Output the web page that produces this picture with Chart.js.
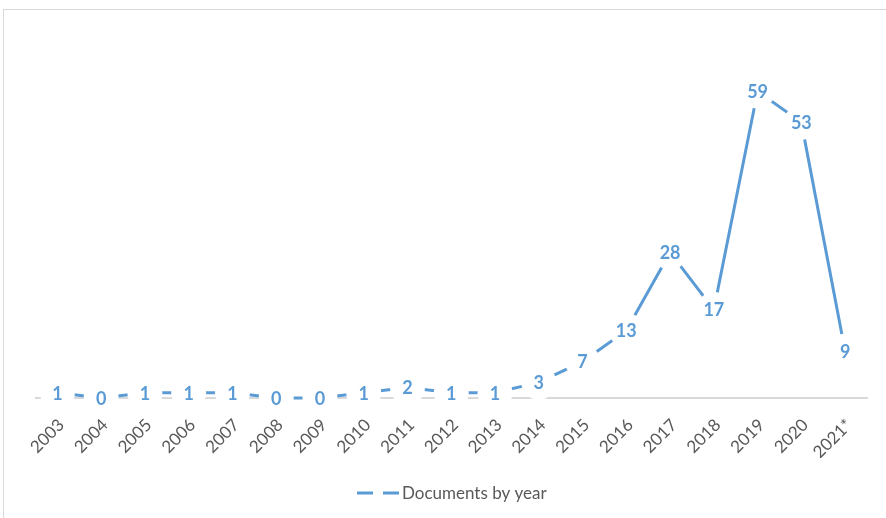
<!DOCTYPE html>
<html>
<head>
<meta charset="utf-8">
<script src="https://cdn.jsdelivr.net/npm/chart.js@4.4.1/dist/chart.umd.min.js"></script>
<style>
  html, body { margin: 0; padding: 0; background: #ffffff; overflow: hidden; }
  #frame { position: absolute; left: 3px; top: 9px; width: 1000px; height: 700px; border: 1px solid #D9D9D9; }
  #wrap { position: absolute; left: 0; top: 0; width: 886px; height: 518px; }
</style>
</head>
<body>
<div id="frame"></div>
<div id="wrap"><canvas id="c" width="886" height="518"></canvas></div>
<script>
const years = ["2003","2004","2005","2006","2007","2008","2009","2010","2011","2012","2013","2014","2015","2016","2017","2018","2019","2020","2021*"];
const documents = [1,0,1,1,1,0,0,1,2,1,1,3,7,13,28,17,59,53,9];
const seriesLabel = "Documents by year";

const BLUE = "#5B9BD5";
const GREY_TEXT = "#595959";
const FONT = "Lato, 'Open Sans', sans-serif";

const labelPlugin = {
  id: "pointLabels",
  afterDatasetsDraw(chart) {
    const ctx = chart.ctx;
    const meta = chart.getDatasetMeta(0);
    const data = chart.data.datasets[0].data;
    ctx.save();
    ctx.font = "bold 18px " + FONT;
    ctx.textAlign = "center";
    ctx.textBaseline = "middle";
    meta.data.forEach((pt, i) => {
      const txt = String(data[i]);
      ctx.fillStyle = "#ffffff";
      ctx.beginPath();
      ctx.arc(pt.x, pt.y, 17.5, 0, Math.PI * 2);
      ctx.fill();
      ctx.fillStyle = BLUE;
      ctx.fillText(txt, pt.x, pt.y + 1);
    });
    ctx.restore();
  },
  afterDraw(chart) {
    // legend
    const ctx = chart.ctx;
    ctx.save();
    const y = 493;
    ctx.strokeStyle = BLUE;
    ctx.lineWidth = 3;
    ctx.setLineDash([16, 10]);
    ctx.beginPath();
    ctx.moveTo(357, y);
    ctx.lineTo(399, y);
    ctx.stroke();
    ctx.setLineDash([]);
    ctx.fillStyle = GREY_TEXT;
    ctx.font = "17px " + FONT;
    ctx.textAlign = "left";
    ctx.textBaseline = "middle";
    ctx.fillText(chart.data.datasets[0].label, 402, y + 1);
    ctx.restore();
  }
};

new Chart(document.getElementById("c"), {
  type: "line",
  data: {
    labels: years,
    datasets: [{
      label: seriesLabel,
      data: documents,
      borderColor: BLUE,
      backgroundColor: BLUE,
      borderWidth: 3,
      pointRadius: 0,
      tension: 0,
      fill: false,
      clip: false
    }]
  },
  options: {
    responsive: false,
    animation: false,
    layout: { padding: { left: 35.5, right: 19, top: 34, bottom: 60 } },
    plugins: { legend: { display: false }, tooltip: { enabled: false } },
    scales: {
      x: {
        offset: true,
        grid: { display: false, drawTicks: false },
        border: { display: true, color: "#D9D9D9", width: 2 },
        ticks: {
          autoSkip: false,
          minRotation: 45,
          maxRotation: 45,
          padding: 17,
          labelOffset: 4,
          color: GREY_TEXT,
          font: { family: FONT, size: 17 }
        },
        afterFit(scale) { scale.height = 60; }
      },
      y: {
        display: false,
        min: 0,
        max: 70
      }
    }
  },
  plugins: [labelPlugin]
});
</script>
</body>
</html>
